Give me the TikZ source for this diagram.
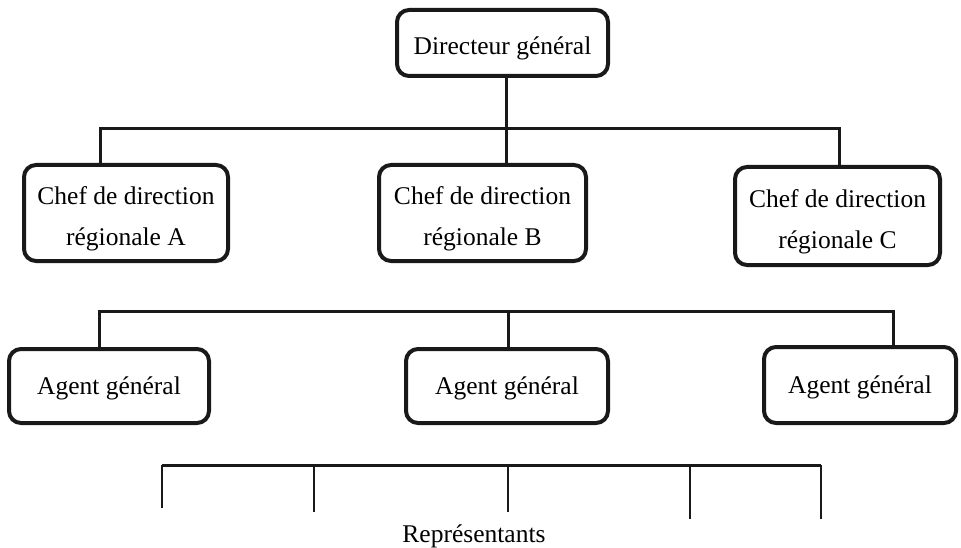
\documentclass[tikz,border=0pt]{standalone}
\usepackage{fontspec}
\setmainfont{Liberation Serif}
\begin{document}
\begin{tikzpicture}[x=1pt,y=-1pt,
  orgbox/.style={draw=black!90, line width=4pt, rounded corners=12pt, inner sep=0pt,
    align=center, font=\fontsize{25.5}{41}\selectfont},
  oneline/.style={text height=30pt, text depth=6pt},
  agentline/.style={text height=23pt, text depth=6pt},
  twoline/.style={text height=71pt, text depth=6pt},
  link/.style={draw=black!90, line width=3pt},
  tick/.style={draw=black!90, line width=1.3pt},
  lbl/.style={font=\fontsize{25.5}{30}\selectfont, inner sep=0pt}]
\useasboundingbox (0,0) rectangle (961,548);

% boxes
\node[orgbox, oneline, minimum width=211pt, minimum height=66pt] (dg) at (502.5,43) {Directeur général};
\node[orgbox, twoline, minimum width=204pt, minimum height=96pt] (cA) at (126,213) {Chef de direction\\régionale A};
\node[orgbox, twoline, minimum width=207pt, minimum height=96pt] (cB) at (482.5,213) {Chef de direction\\régionale B};
\node[orgbox, twoline, minimum width=205pt, minimum height=98pt] (cC) at (837.5,216) {Chef de direction\\régionale C};
\node[orgbox, agentline, minimum width=200pt, minimum height=74pt] (ag1) at (109,386) {Agent général};
\node[orgbox, agentline, minimum width=202pt, minimum height=74pt] (ag2) at (507,386) {Agent général};
\node[orgbox, agentline, minimum width=192pt, minimum height=76pt] (ag3) at (860,385) {Agent général};

% first level bar
\coordinate (b1L) at (100,129);
\coordinate (b1M) at (506,129);
\coordinate (b1R) at (839,129);
\draw[link] (cA.north -| b1L) -- (b1L) -- (b1R) -- (cC.north -| b1R);
\draw[link] (dg.south -| b1M) -- (cB.north -| b1M);

% second level bar
\coordinate (b2L) at (99,311);
\coordinate (b2M) at (508,311);
\coordinate (b2R) at (893,311);
\draw[link] (ag1.north -| b2L) -- (b2L) -- (b2R) -- (ag3.north -| b2R);
\draw[link] (b2M) -- (ag2.north -| b2M);

% representatives bar
\coordinate (b3L) at (162,465);
\coordinate (b3R) at (821,465);
\coordinate (t1) at (162,508);
\coordinate (t2) at (314,512);
\coordinate (t3) at (508,512);
\coordinate (t4) at (690,519);
\coordinate (t5) at (821,519);
\draw[link] (b3L) -- (b3R);
\draw[tick] (b3L) -- (t1);
\draw[tick] (t2 |- b3L) -- (t2);
\draw[tick] (t3 |- b3L) -- (t3);
\draw[tick] (t4 |- b3L) -- (t4);
\draw[tick] (b3R) -- (t5);
\node[lbl, anchor=base] (rep) at (474,542) {Représentants};
\end{tikzpicture}
\end{document}
